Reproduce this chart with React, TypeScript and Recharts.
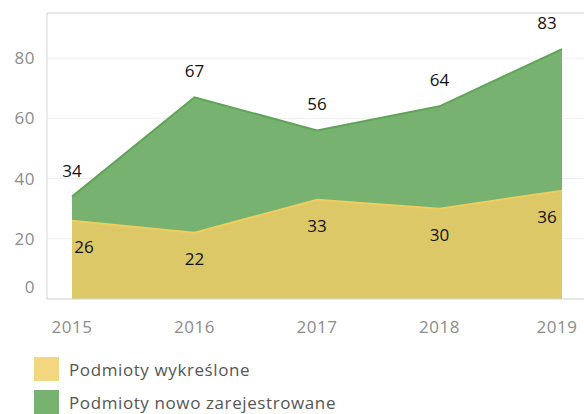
import { Area, AreaChart, CartesianGrid, LabelList, ReferenceLine, XAxis, YAxis } from "recharts";

const years = ["2015", "2016", "2017", "2018", "2019"];
const removed = [26, 22, 33, 30, 36];
const registered = [34, 67, 56, 64, 83];
const yTicks = [0, 20, 40, 60, 80];

const data = years.map((year, i) => ({ year, removed: removed[i], registered: registered[i] }));

const FONT = "'Open Sans', 'Noto Sans', sans-serif";
const GREEN = "#77b270";
const YELLOW = "#dcc866";

function YTick(props: any) {
  const { x, y, payload } = props;
  // tableau pushes the zero label up off the baseline
  const shift = payload.value === 0 ? -12 : 0;
  return (
    <text x={x - 4} y={y + shift} dy={6} textAnchor="end" fill="#8c8c8c" fontSize={17} fontFamily={FONT} letterSpacing={0.5}>
      {payload.value}
    </text>
  );
}

function XTick(props: any) {
  const { x, payload } = props;
  const cx = Math.min(x, 557);
  return (
    <text x={cx} y={327} dy={6} textAnchor="middle" fill="#8c8c8c" fontSize={17} fontFamily={FONT} letterSpacing={0.5}>
      {payload.value}
    </text>
  );
}

function makeLabel(offset: number, minX: number) {
  return (props: any) => {
    const { x, y, value } = props;
    const cx = Math.max(minX, Math.min(x, 547));
    return (
      <text x={cx} y={y + offset} dy={6} textAnchor="middle" fill="#111" fontSize={17} fontFamily={FONT}>
        {value}
      </text>
    );
  };
}

export default function App() {
  return (
    <div style={{ position: "absolute", left: 0, top: 0, width: 584, height: 414, overflow: "hidden", background: "#fff" }}>
      <AreaChart width={584} height={414} data={data} margin={{ top: 13, right: 0, left: 0, bottom: 74 }}>
        <CartesianGrid vertical={false} stroke="#efefef" />
        <XAxis
          dataKey="year"
          height={41}
          padding={{ left: 25, right: 22 }}
          axisLine={{ stroke: "#d6d6d6" }}
          tickLine={false}
          tick={<XTick />}
          interval={0}
        />
        <YAxis
          width={47}
          domain={[0, 95]}
          ticks={yTicks}
          axisLine={{ stroke: "#d6d6d6" }}
          tickLine={false}
          tick={<YTick />}
        />
        <ReferenceLine y={95} stroke="#d6d6d6" />
        <Area
          type="linear"
          dataKey="registered"
          name="Podmioty nowo zarejestrowane"
          fill={GREEN}
          fillOpacity={1}
          stroke="#5fa457"
          strokeWidth={2}
          isAnimationActive={false}
        >
          <LabelList dataKey="registered" content={makeLabel(-26, 0)} />
        </Area>
        <Area
          type="linear"
          dataKey="removed"
          name="Podmioty wykreślone"
          fill={YELLOW}
          fillOpacity={1}
          stroke="#efcd5f"
          strokeWidth={2}
          isAnimationActive={false}
        >
          <LabelList dataKey="removed" content={makeLabel(26, 84)} />
        </Area>
      </AreaChart>
      {[
        { label: "Podmioty wykreślone", color: "#f3d680", top: 357 },
        { label: "Podmioty nowo zarejestrowane", color: GREEN, top: 390 },
      ].map((item) => (
        <div key={item.label} style={{ position: "absolute", left: 34, top: item.top, display: "flex", alignItems: "center" }}>
          <span style={{ width: 25, height: 24, background: item.color, display: "inline-block" }} />
          <span style={{ marginLeft: 10, fontFamily: FONT, fontSize: 17, color: "#555", letterSpacing: 0.6 }}>{item.label}</span>
        </div>
      ))}
    </div>
  );
}
